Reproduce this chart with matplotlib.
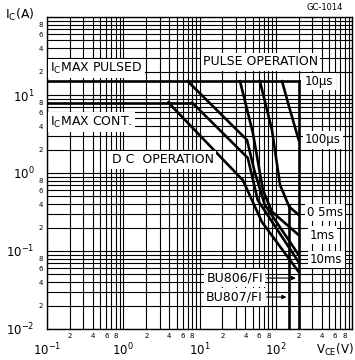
import math
import matplotlib
matplotlib.use("Agg")
import matplotlib.pyplot as plt
from matplotlib.ticker import FixedLocator, FuncFormatter

plt.rcParams['font.family'] = ['DejaVu Sans']

# collector current limits (A)
ic_max_pulsed = 15
ic_max_cont = 8
# breakdown limits (V)
vceo_bu806 = 200
vceo_bu807 = 150

# SOA curves: VCE (V) and IC (A)
v_100us = [121, 150, 200]
i_100us = [15, 7.0, 2.65]
v_05ms = [62, 89, 114, 150, 200]
i_05ms = [15, 3.6, 0.70, 0.37, 0.29]
v_1ms = [34, 50, 68, 89, 200]
i_1ms = [15, 3.3, 0.60, 0.32, 0.16]
v_10ms = [7, 42, 53, 72, 200]
i_10ms = [15, 2.65, 1.03, 0.39, 0.089]
v_dc2 = [8, 43, 58, 200]
i_dc2 = [8, 1.56, 0.45, 0.072]
v_dc = [3.9, 37, 66, 200]
i_dc = [8, 0.81, 0.235, 0.054]

x_decades = [0.1, 1, 10, 100]
y_decades = [0.01, 0.1, 1, 10]

fig = plt.figure(figsize=(3.55, 3.6), dpi=100)
ax = fig.add_axes([47/355, 1 - 329/360, 305/355, 312/360])
ax.set_xscale('log')
ax.set_yscale('log')
ax.set_xlim(0.1, 1000)
ax.set_ylim(0.01, 100)

# log paper grid
minor = [m * 10.0**e for e in range(-3, 4) for m in range(2, 10)]
ax.xaxis.set_major_locator(FixedLocator(x_decades + [1000]))
ax.yaxis.set_major_locator(FixedLocator(y_decades + [100]))
ax.xaxis.set_minor_locator(FixedLocator(minor))
ax.yaxis.set_minor_locator(FixedLocator(minor))


def decade_fmt(limit):
    def f(v, pos):
        if v >= limit:
            return ''
        return r'$10^{%d}$' % int(round(math.log10(v)))
    return f


def minor_fmt(v, pos):
    e = math.floor(math.log10(v) + 1e-9)
    m = int(round(v / 10**e))
    return str(m) if m in (2, 4, 6, 8) else ''


ax.xaxis.set_major_formatter(FuncFormatter(decade_fmt(1000)))
ax.yaxis.set_major_formatter(FuncFormatter(decade_fmt(100)))
ax.xaxis.set_minor_formatter(FuncFormatter(minor_fmt))
ax.yaxis.set_minor_formatter(FuncFormatter(minor_fmt))
ax.tick_params(which='both', length=0)
ax.tick_params(which='major', labelsize=8.5)
ax.tick_params(axis='x', which='major', pad=9)
ax.tick_params(axis='y', which='major', pad=9)
ax.tick_params(which='minor', labelsize=5, pad=3)
ax.grid(True, which='both', color='black', lw=0.8)
for s in ax.spines.values():
    s.set_color('black')
    s.set_linewidth(1.0)

lw = 1.9
ax.plot([0.1, vceo_bu806], [ic_max_pulsed, ic_max_pulsed], color='black', lw=lw)
ax.plot([0.1, v_dc2[0]], [ic_max_cont, ic_max_cont], color='black', lw=lw)
ax.plot([vceo_bu806, vceo_bu806], [ic_max_pulsed, 0.01], color='black', lw=lw)
ax.plot([vceo_bu807, vceo_bu807], [0.39, 0.01], color='black', lw=lw)
for v, i in [(v_100us, i_100us), (v_05ms, i_05ms), (v_1ms, i_1ms),
             (v_10ms, i_10ms), (v_dc2, i_dc2), (v_dc, i_dc)]:
    ax.plot(v, i, color='black', lw=lw)

box = dict(facecolor='white', edgecolor='none', pad=1.5)
fs = 9
ax.text(0.11, 22, r'I$_\mathregular{C}$MAX PULSED', fontsize=fs, va='center', bbox=box)
ax.text(11.1, 26.5, 'PULSE OPERATION', fontsize=fs, va='center', bbox=box)
ax.text(0.11, 4.5, r'I$_\mathregular{C}$MAX CONT.', fontsize=fs, va='center', bbox=box)
ax.text(0.71, 1.47, 'D C  OPERATION', fontsize=fs, va='center', bbox=box)
for label, v, i in [('10μs', 242, 15), ('100μs', 242, 2.65), ('0 5ms', 257, 0.31),
                    ('1ms', 281, 0.16), ('10ms', 281, 0.077)]:
    ax.text(v, i, label, fontsize=8.5, va='center', bbox=box)

ax.text(68, 0.045, 'BU806/FI', fontsize=fs, va='center', ha='right', bbox=box)
ax.text(68, 0.0257, 'BU807/FI', fontsize=fs, va='center', ha='right', bbox=box)
ax.annotate('', xy=(vceo_bu806, 0.045), xytext=(70, 0.045),
            arrowprops=dict(arrowstyle='-|>', color='black', lw=0.8, mutation_scale=6))
ax.annotate('', xy=(vceo_bu807, 0.0257), xytext=(70, 0.0257),
            arrowprops=dict(arrowstyle='-|>', color='black', lw=0.8, mutation_scale=6))

fig.text(5/355, 1 - 15/360, r'I$_\mathregular{C}$(A)', fontsize=9, va='center')
fig.text(335/355, 1 - 350/360, r'V$_\mathregular{CE}$(V)', fontsize=8.5, va='center', ha='center')
fig.text(325/355, 1 - 8/360, 'GC-1014', fontsize=6, va='center', ha='center')

fig.savefig('out.png', dpi=100)
